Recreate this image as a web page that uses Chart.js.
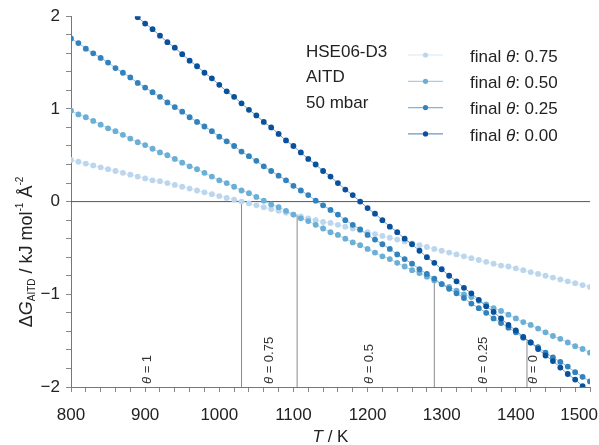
<!DOCTYPE html>
<html lang="en">
<head>
<meta charset="UTF-8" />
<title>AITD free energy vs temperature</title>
<script src="https://cdn.jsdelivr.net/npm/chart.js"></script>
<style>
  body { margin: 0; background: #fff; }
</style>
</head>
<body>
<canvas id="chart" width="599" height="445"></canvas>
<script>
// temperature grid, K
const temps = [800,810,820,830,840,850,860,870,880,890,900,910,920,930,940,950,960,970,980,990,
  1000,1010,1020,1030,1040,1050,1060,1070,1080,1090,1100,1110,1120,1130,1140,1150,1160,1170,1180,1190,
  1200,1210,1220,1230,1240,1250,1260,1270,1280,1290,1300,1310,1320,1330,1340,1350,1360,1370,1380,1390,
  1400,1410,1420,1430,1440,1450,1460,1470,1480,1490,1500];

// dG_AITD in kJ mol^-1 A^-2, one array per final coverage
const theta075 = [0.45,0.43,0.41,0.39,0.37,0.35,0.33,0.31,0.29,0.27,
  0.25,0.23,0.22,0.20,0.18,0.16,0.14,0.12,0.10,0.08,
  0.06,0.04,0.02,0.00,-0.02,-0.04,-0.06,-0.08,-0.10,-0.12,
  -0.14,-0.16,-0.18,-0.20,-0.22,-0.23,-0.25,-0.27,-0.29,-0.31,
  -0.33,-0.35,-0.37,-0.39,-0.41,-0.43,-0.45,-0.47,-0.49,-0.51,
  -0.53,-0.55,-0.57,-0.59,-0.61,-0.63,-0.65,-0.67,-0.69,-0.70,
  -0.72,-0.74,-0.76,-0.78,-0.80,-0.82,-0.84,-0.86,-0.88,-0.90,
  -0.92];
const theta050 = [0.98,0.94,0.91,0.87,0.83,0.79,0.76,0.72,0.68,0.64,
  0.61,0.57,0.53,0.50,0.46,0.42,0.38,0.35,0.31,0.27,
  0.23,0.20,0.16,0.12,0.09,0.05,0.01,-0.03,-0.06,-0.10,
  -0.14,-0.18,-0.21,-0.25,-0.29,-0.33,-0.36,-0.40,-0.44,-0.47,
  -0.51,-0.55,-0.59,-0.62,-0.66,-0.70,-0.74,-0.77,-0.81,-0.85,
  -0.89,-0.92,-0.96,-1.00,-1.03,-1.07,-1.11,-1.15,-1.18,-1.22,
  -1.26,-1.30,-1.33,-1.37,-1.41,-1.45,-1.48,-1.52,-1.56,-1.59,
  -1.63];
const theta025 = [1.76,1.71,1.65,1.60,1.55,1.50,1.44,1.39,1.34,1.28,
  1.23,1.18,1.13,1.07,1.02,0.97,0.91,0.86,0.81,0.76,
  0.70,0.65,0.60,0.54,0.49,0.44,0.38,0.33,0.28,0.23,
  0.17,0.12,0.07,0.01,-0.04,-0.09,-0.14,-0.20,-0.25,-0.30,
  -0.36,-0.41,-0.46,-0.51,-0.57,-0.62,-0.67,-0.73,-0.78,-0.83,
  -0.89,-0.94,-0.99,-1.04,-1.10,-1.15,-1.20,-1.26,-1.31,-1.36,
  -1.41,-1.47,-1.52,-1.57,-1.63,-1.68,-1.73,-1.78,-1.84,-1.89,
  -1.94];
const theta000 = [2.59,2.52,2.45,2.39,2.32,2.25,2.19,2.12,2.06,1.99,
  1.92,1.86,1.79,1.72,1.66,1.59,1.52,1.46,1.39,1.33,
  1.26,1.19,1.13,1.06,0.99,0.93,0.86,0.80,0.73,0.66,
  0.60,0.53,0.46,0.40,0.33,0.27,0.20,0.13,0.07,0.00,
  -0.07,-0.13,-0.20,-0.27,-0.33,-0.40,-0.46,-0.53,-0.60,-0.66,
  -0.73,-0.80,-0.86,-0.93,-0.99,-1.06,-1.13,-1.19,-1.26,-1.33,
  -1.39,-1.46,-1.52,-1.59,-1.66,-1.72,-1.79,-1.86,-1.92,-1.99,
  -2.05];

const seriesLabels = ["0.75", "0.50", "0.25", "0.00"];
const seriesColors = ["#bcd6ee", "#6baed6", "#3182bd", "#08519c"];
const notes = ["HSE06-D3", "AITD", "50 mbar"];

// where the most stable coverage changes
const transitionT = [1030, 1105, 1290, 1415];
const transitionTop = [0, -0.14, -0.86, -1.5];
const regionTheta = ["1", "0.75", "0.5", "0.25", "0"];
const regionLabelT = [903, 1068, 1203, 1356, 1424];

const xTickLabels = [800, 900, 1000, 1100, 1200, 1300, 1400, 1500];

const FONT = '"Liberation Sans", Arial, Helvetica, sans-serif';
Chart.defaults.font.family = FONT;

function pts(ys) {
  return temps.map((t, i) => ({ x: t, y: ys[i] }));
}

function fade(hex, a) {
  const n = parseInt(hex.slice(1), 16);
  return `rgba(${n >> 16},${(n >> 8) & 255},${n & 255},${a})`;
}

// draw a run of text pieces, each with its own font / vertical shift
function richWidth(ctx, parts) {
  let w = 0;
  parts.forEach(p => { ctx.font = p.font; w += ctx.measureText(p.text).width; });
  return w;
}
function drawRich(ctx, parts, x, y) {
  parts.forEach(p => {
    ctx.font = p.font;
    ctx.fillText(p.text, x, y + (p.dy || 0));
    x += ctx.measureText(p.text).width;
  });
}

const seriesData = [theta075, theta050, theta025, theta000];
const datasets = seriesData.map((ys, i) => ({
  label: "final θ: " + seriesLabels[i],
  data: pts(ys),
  borderColor: fade(seriesColors[i], 0.55),
  borderWidth: 1,
  pointRadius: 2.9,
  pointBackgroundColor: seriesColors[i],
  pointBorderWidth: 0,
  order: 4 - i
}));

transitionT.forEach((t, i) => {
  datasets.push({
    label: "",
    data: [{ x: t, y: -2 }, { x: t, y: transitionTop[i] }],
    borderColor: "#8a8a8a",
    borderWidth: 1,
    pointRadius: 0,
    order: 10
  });
});
datasets.push({
  label: "",
  data: [{ x: 800, y: 0 }, { x: 1500, y: 0 }],
  borderColor: "#555",
  borderWidth: 1,
  pointRadius: 0,
  order: 10
});

const annotations = {
  id: "annotations",
  afterDraw(chart) {
    const ctx = chart.ctx;
    const xs = chart.scales.x, ys = chart.scales.y;
    ctx.save();
    ctx.fillStyle = "#222";

    // x tick labels (last one pulled inside the canvas)
    ctx.textBaseline = "middle";
    ctx.font = "17px " + FONT;
    xTickLabels.forEach(v => {
      const w = ctx.measureText(String(v)).width;
      let x = xs.getPixelForValue(v) - w / 2;
      if (x + w > chart.width - 1) x = chart.width - 1 - w;
      ctx.textAlign = "left";
      ctx.fillText(String(v), x, 415);
    });

    // x axis title
    const xt = [
      { text: "T", font: "italic 17px " + FONT },
      { text: " / K", font: "17px " + FONT }
    ];
    const cx = (chart.chartArea.left + chart.chartArea.right) / 2;
    drawRich(ctx, xt, cx - richWidth(ctx, xt) / 2, 437);

    // y axis title
    const yt = [
      { text: "Δ", font: "18px " + FONT },
      { text: "G", font: "italic 18px " + FONT },
      { text: "AITD", font: "10px " + FONT, dy: 5 },
      { text: " / kJ mol", font: "18px " + FONT },
      { text: "-1", font: "10px " + FONT, dy: -7 },
      { text: " Å", font: "18px " + FONT },
      { text: "-2", font: "10px " + FONT, dy: -7 }
    ];
    ctx.save();
    ctx.translate(27, 252);
    ctx.rotate(-Math.PI / 2);
    drawRich(ctx, yt, -richWidth(ctx, yt) / 2, 0);
    ctx.restore();

    // coverage region labels, rotated
    ctx.fillStyle = "#333";
    regionTheta.forEach((th, i) => {
      const parts = [
        { text: "θ", font: "italic 13px " + FONT },
        { text: " = " + th, font: "13px " + FONT }
      ];
      ctx.save();
      ctx.translate(xs.getPixelForValue(regionLabelT[i]), ys.getPixelForValue(-2) - 3);
      ctx.rotate(-Math.PI / 2);
      drawRich(ctx, parts, 0, 0);
      ctx.restore();
    });

    // legend
    ctx.fillStyle = "#222";
    ctx.font = "17px " + FONT;
    ctx.textAlign = "left";
    notes.forEach((n, i) => ctx.fillText(n, 306, 52 + i * 25.5));
    seriesLabels.forEach((lab, i) => {
      const y = 55 + i * 26.3;
      ctx.strokeStyle = fade(seriesColors[i], 0.6);
      ctx.lineWidth = 1.2;
      ctx.beginPath();
      ctx.moveTo(408, y);
      ctx.lineTo(443, y);
      ctx.stroke();
      ctx.fillStyle = seriesColors[i];
      ctx.beginPath();
      ctx.arc(425.5, y, 2.6, 0, Math.PI * 2);
      ctx.fill();
      ctx.fillStyle = "#222";
      drawRich(ctx, [
        { text: "final ", font: "17px " + FONT },
        { text: "θ", font: "italic 17px " + FONT },
        { text: ": " + lab, font: "17px " + FONT }
      ], 470, y + 2);
    });
    ctx.restore();
  }
};

new Chart(document.getElementById("chart").getContext("2d"), {
  type: "line",
  data: { datasets: datasets },
  options: {
    responsive: false,
    animation: false,
    devicePixelRatio: 1,
    layout: { padding: { top: 16, right: 9, left: 0, bottom: 0 } },
    plugins: { legend: { display: false }, tooltip: { enabled: false } },
    scales: {
      x: {
        type: "linear",
        min: 800,
        max: 1500,
        ticks: { display: false, stepSize: 20, autoSkip: false },
        grid: { drawOnChartArea: false, tickLength: 5, color: "#888" },
        border: { color: "#777" },
        afterFit(scale) {
          scale.height = 58;
          scale.paddingLeft = 0;
          scale.paddingRight = 0;
        }
      },
      y: {
        min: -2,
        max: 2,
        ticks: {
          stepSize: 0.2,
          autoSkip: false,
          padding: 6,
          color: "#222",
          font: { size: 17 },
          callback: v => Math.abs(v - Math.round(v)) < 1e-6
            ? (Math.round(v) < 0 ? "−" + Math.abs(Math.round(v)) : String(Math.round(v)))
            : ""
        },
        grid: { drawOnChartArea: false, tickLength: 5, color: "#888" },
        border: { color: "#777" },
        afterFit(scale) {
          scale.width = 71;
        }
      }
    }
  },
  plugins: [annotations]
});
</script>
</body>
</html>
